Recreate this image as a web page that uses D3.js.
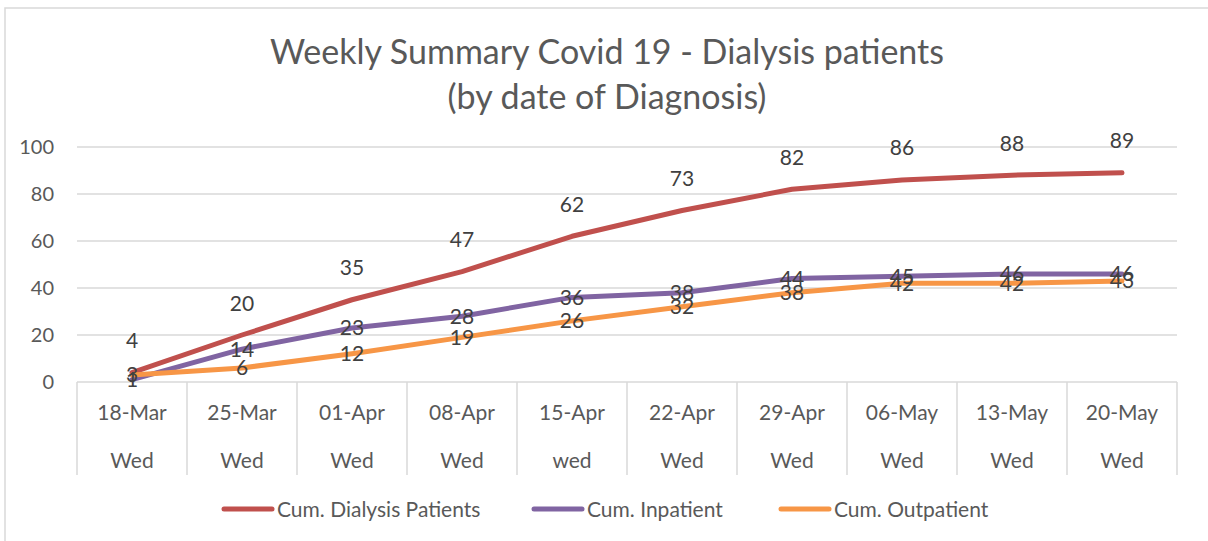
<!DOCTYPE html>
<html>
<head>
<meta charset="utf-8">
<script src="https://cdn.jsdelivr.net/npm/d3@7"></script>
<style>
  body { margin: 0; background: #fff; }
  text { font-family: Lato, "Open Sans", sans-serif; }
</style>
</head>
<body>
<svg id="chart" width="1208" height="541"></svg>
<script>
// categories and weekday row
const dates = ["18-Mar", "25-Mar", "01-Apr", "08-Apr", "15-Apr", "22-Apr", "29-Apr", "06-May", "13-May", "20-May"];
const days = ["Wed", "Wed", "Wed", "Wed", "wed", "Wed", "Wed", "Wed", "Wed", "Wed"];

// series values
const dialysis = [4, 20, 35, 47, 62, 73, 82, 86, 88, 89];
const inpatient = [1, 14, 23, 28, 36, 38, 44, 45, 46, 46];
const outpatient = [3, 6, 12, 19, 26, 32, 38, 42, 42, 43];

const yTicks = [0, 20, 40, 60, 80, 100];

const series = [
  {name: "Cum. Dialysis Patients", vals: dialysis, color: "#c0504d", lab: "above"},
  {name: "Cum. Inpatient", vals: inpatient, color: "#8064a2", lab: "center"},
  {name: "Cum. Outpatient", vals: outpatient, color: "#f79646", lab: "center"}
];

const svg = d3.select("#chart");
const pLeft = 77, pRight = 1177, pTop = 147, pBottom = 382;

// chart frame
svg.append("rect").attr("x", 5).attr("y", 8).attr("width", 1210).attr("height", 560)
   .attr("fill", "#fff").attr("stroke", "#d9d9d9").attr("stroke-width", 1.5);

const x = d3.scaleBand().domain(dates).range([pLeft, pRight]);
const y = d3.scaleLinear().domain([0, 100]).range([pBottom, pTop]);

// title
const title = svg.append("text").attr("text-anchor", "middle").attr("fill", "#595959")
   .attr("font-size", 34);
title.append("tspan").attr("x", 607).attr("y", 64).text("Weekly Summary Covid 19 - Dialysis patients");
title.append("tspan").attr("x", 607).attr("y", 109).text("(by date of Diagnosis)");

// gridlines
svg.append("g").selectAll("line").data(yTicks.slice(1)).join("line")
   .attr("x1", pLeft).attr("x2", pRight).attr("y1", d => y(d)).attr("y2", d => y(d))
   .attr("stroke", "#d9d9d9").attr("stroke-width", 1.5);

// y axis labels
const yAxis = svg.append("g").attr("transform", `translate(${pLeft - 23},0)`)
   .call(d3.axisLeft(y).tickValues(yTicks).tickSize(0).tickPadding(0));
yAxis.select(".domain").remove();
yAxis.selectAll("text").attr("font-size", 20).attr("fill", "#595959")
   .attr("font-family", "Lato, 'Open Sans', sans-serif");

// category axis (two levels with box lines)
const ax = svg.append("g");
ax.append("line").attr("x1", pLeft).attr("x2", pRight).attr("y1", pBottom).attr("y2", pBottom)
   .attr("stroke", "#d9d9d9").attr("stroke-width", 1.5);
const edges = dates.map(d => x(d)).concat([pRight]);
ax.selectAll("line.tick").data(edges).join("line").attr("class", "tick")
   .attr("x1", d => d).attr("x2", d => d).attr("y1", pBottom).attr("y2", 475)
   .attr("stroke", "#d9d9d9").attr("stroke-width", 1.5);
ax.selectAll("text.date").data(dates).join("text").attr("class", "date")
   .attr("x", d => x(d) + x.bandwidth() / 2).attr("y", 420)
   .attr("text-anchor", "middle").attr("font-size", 21).attr("fill", "#595959").text(d => d);
ax.selectAll("text.day").data(days).join("text").attr("class", "day")
   .attr("x", (d, i) => x(dates[i]) + x.bandwidth() / 2).attr("y", 468)
   .attr("text-anchor", "middle").attr("font-size", 21).attr("fill", "#595959").text(d => d);

// lines
const line = d3.line().x((d, i) => x(dates[i]) + x.bandwidth() / 2).y(d => y(d));
series.forEach(s => {
  svg.append("path").datum(s.vals).attr("d", line).attr("fill", "none")
     .attr("stroke", s.color).attr("stroke-width", 5).attr("stroke-linejoin", "round")
     .attr("stroke-linecap", "round");
});

// data labels
series.forEach(s => {
  svg.append("g").selectAll("text").data(s.vals).join("text")
     .attr("x", (d, i) => x(dates[i]) + x.bandwidth() / 2)
     .attr("y", d => s.lab == "above" ? y(d) - 24.5 : y(d) + 7.5)
     .attr("text-anchor", "middle").attr("font-size", 21).attr("fill", "#404040")
     .text(d => d);
});

// legend
const legX = [222, 532, 779];
const leg = svg.append("g").selectAll("g").data(series).join("g")
   .attr("transform", (d, i) => `translate(${legX[i]},509)`);
leg.append("line").attr("x1", 2).attr("x2", 50).attr("stroke", d => d.color)
   .attr("stroke-width", 5).attr("stroke-linecap", "round");
leg.append("text").attr("x", 55).attr("y", 7.5).attr("font-size", 21).attr("fill", "#595959")
   .text(d => d.name);
</script>
</body>
</html>
